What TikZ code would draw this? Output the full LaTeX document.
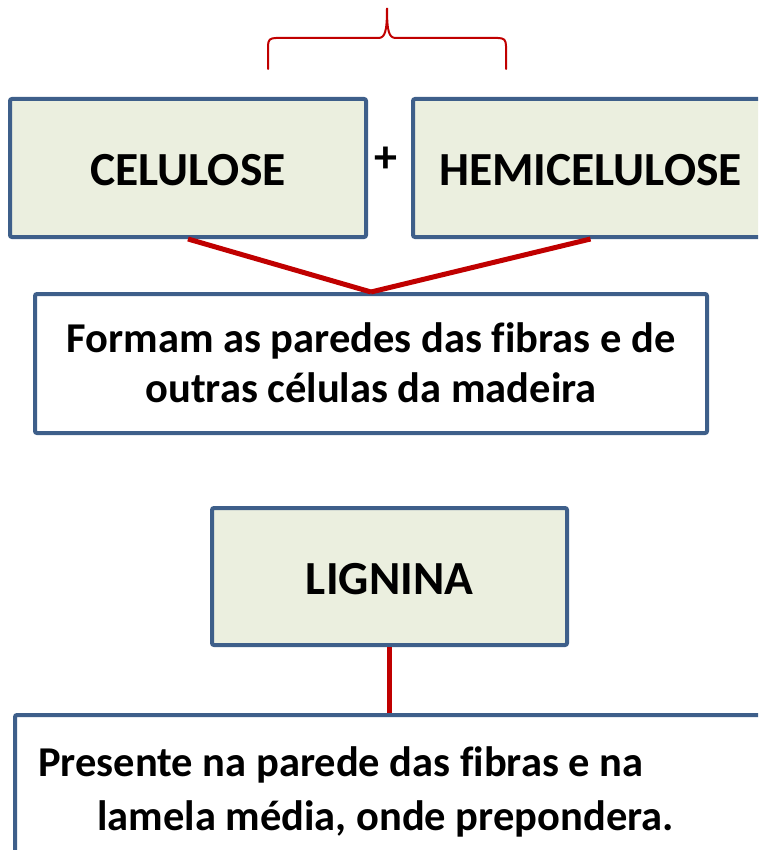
\documentclass[tikz,border=0pt]{standalone}
\usepackage{fontspec}
\setmainfont[Ligatures=NoCommon]{Carlito}
\definecolor{boxblue}{HTML}{3E5F8A}
\definecolor{boxfill}{HTML}{EBEFDF}
\definecolor{linered}{HTML}{C00000}
\begin{document}
\begin{tikzpicture}[x=1pt,y=-1pt,
  box/.style={draw=boxblue, line width=4pt, rounded corners=2pt, inner sep=0pt},
  greenbox/.style={box, fill=boxfill},
  whitebox/.style={box, fill=white},
  conn/.style={draw=linered, line width=5pt},
  bigtxt/.style={font=\fontsize{47.5}{50}\selectfont\bfseries},
  midtxt/.style={font=\fontsize{42.5}{50}\selectfont\bfseries, anchor=base, inner sep=0pt},
  bottxt/.style={font=\fontsize{42.5}{50}\selectfont\bfseries, anchor=base west, inner sep=0pt}]
\useasboundingbox (0,0) rectangle (758,850);
\clip (0,0) rectangle (758,850);
% brace
\draw[linered, line width=2pt, line cap=round]
  (268,69) -- (268,46) .. controls (268,40) and (270,38) .. (276,38) -- (378,38)
  .. controls (385,38) and (387,32) .. (387,8)
  .. controls (387,32) and (389,38) .. (396,38) -- (498,38)
  .. controls (504,38) and (506,40) .. (506,46) -- (506,69);
% boxes
\node[greenbox, minimum width=356pt, minimum height=138pt] (cel) at (188,168) {};
\node[bigtxt] (celt) at (188,170) {CELULOSE};
\node[greenbox, minimum width=355pt, minimum height=138pt] (hemi) at (590.5,168) {};
\node[bigtxt] (hemit) at (590.5,170) {HEMICELULOSE};
\node[font=\fontsize{46}{46}\selectfont\bfseries] (plus) at (386,160) {+};
\node[whitebox, minimum width=672pt, minimum height=139pt] (mid) at (371,363.5) {};
\node[midtxt] (midt1) at (371,352) {Formam as paredes das fibras e de};
\node[midtxt] (midt2) at (371,402) {outras células da madeira};
\node[greenbox, minimum width=355pt, minimum height=137pt] (lig) at (389.5,576.5) {};
\node[bigtxt] (ligt) at (389.5,579) {LIGNINA};
\node[whitebox, anchor=north west, minimum width=800pt, minimum height=200pt] (bot) at (13,713) {};
\node[bottxt] (bott1) at (38,776) {Presente na parede das fibras e na};
\node[bottxt] (bott2) at (97,830) {lamela média, onde prepondera.};
% connectors
\draw[conn] (cel.south) -- (mid.north);
\draw[conn] (hemi.south) -- (mid.north);
\draw[conn] (lig.south) -- (lig.south |- bot.north);
\end{tikzpicture}
\end{document}
